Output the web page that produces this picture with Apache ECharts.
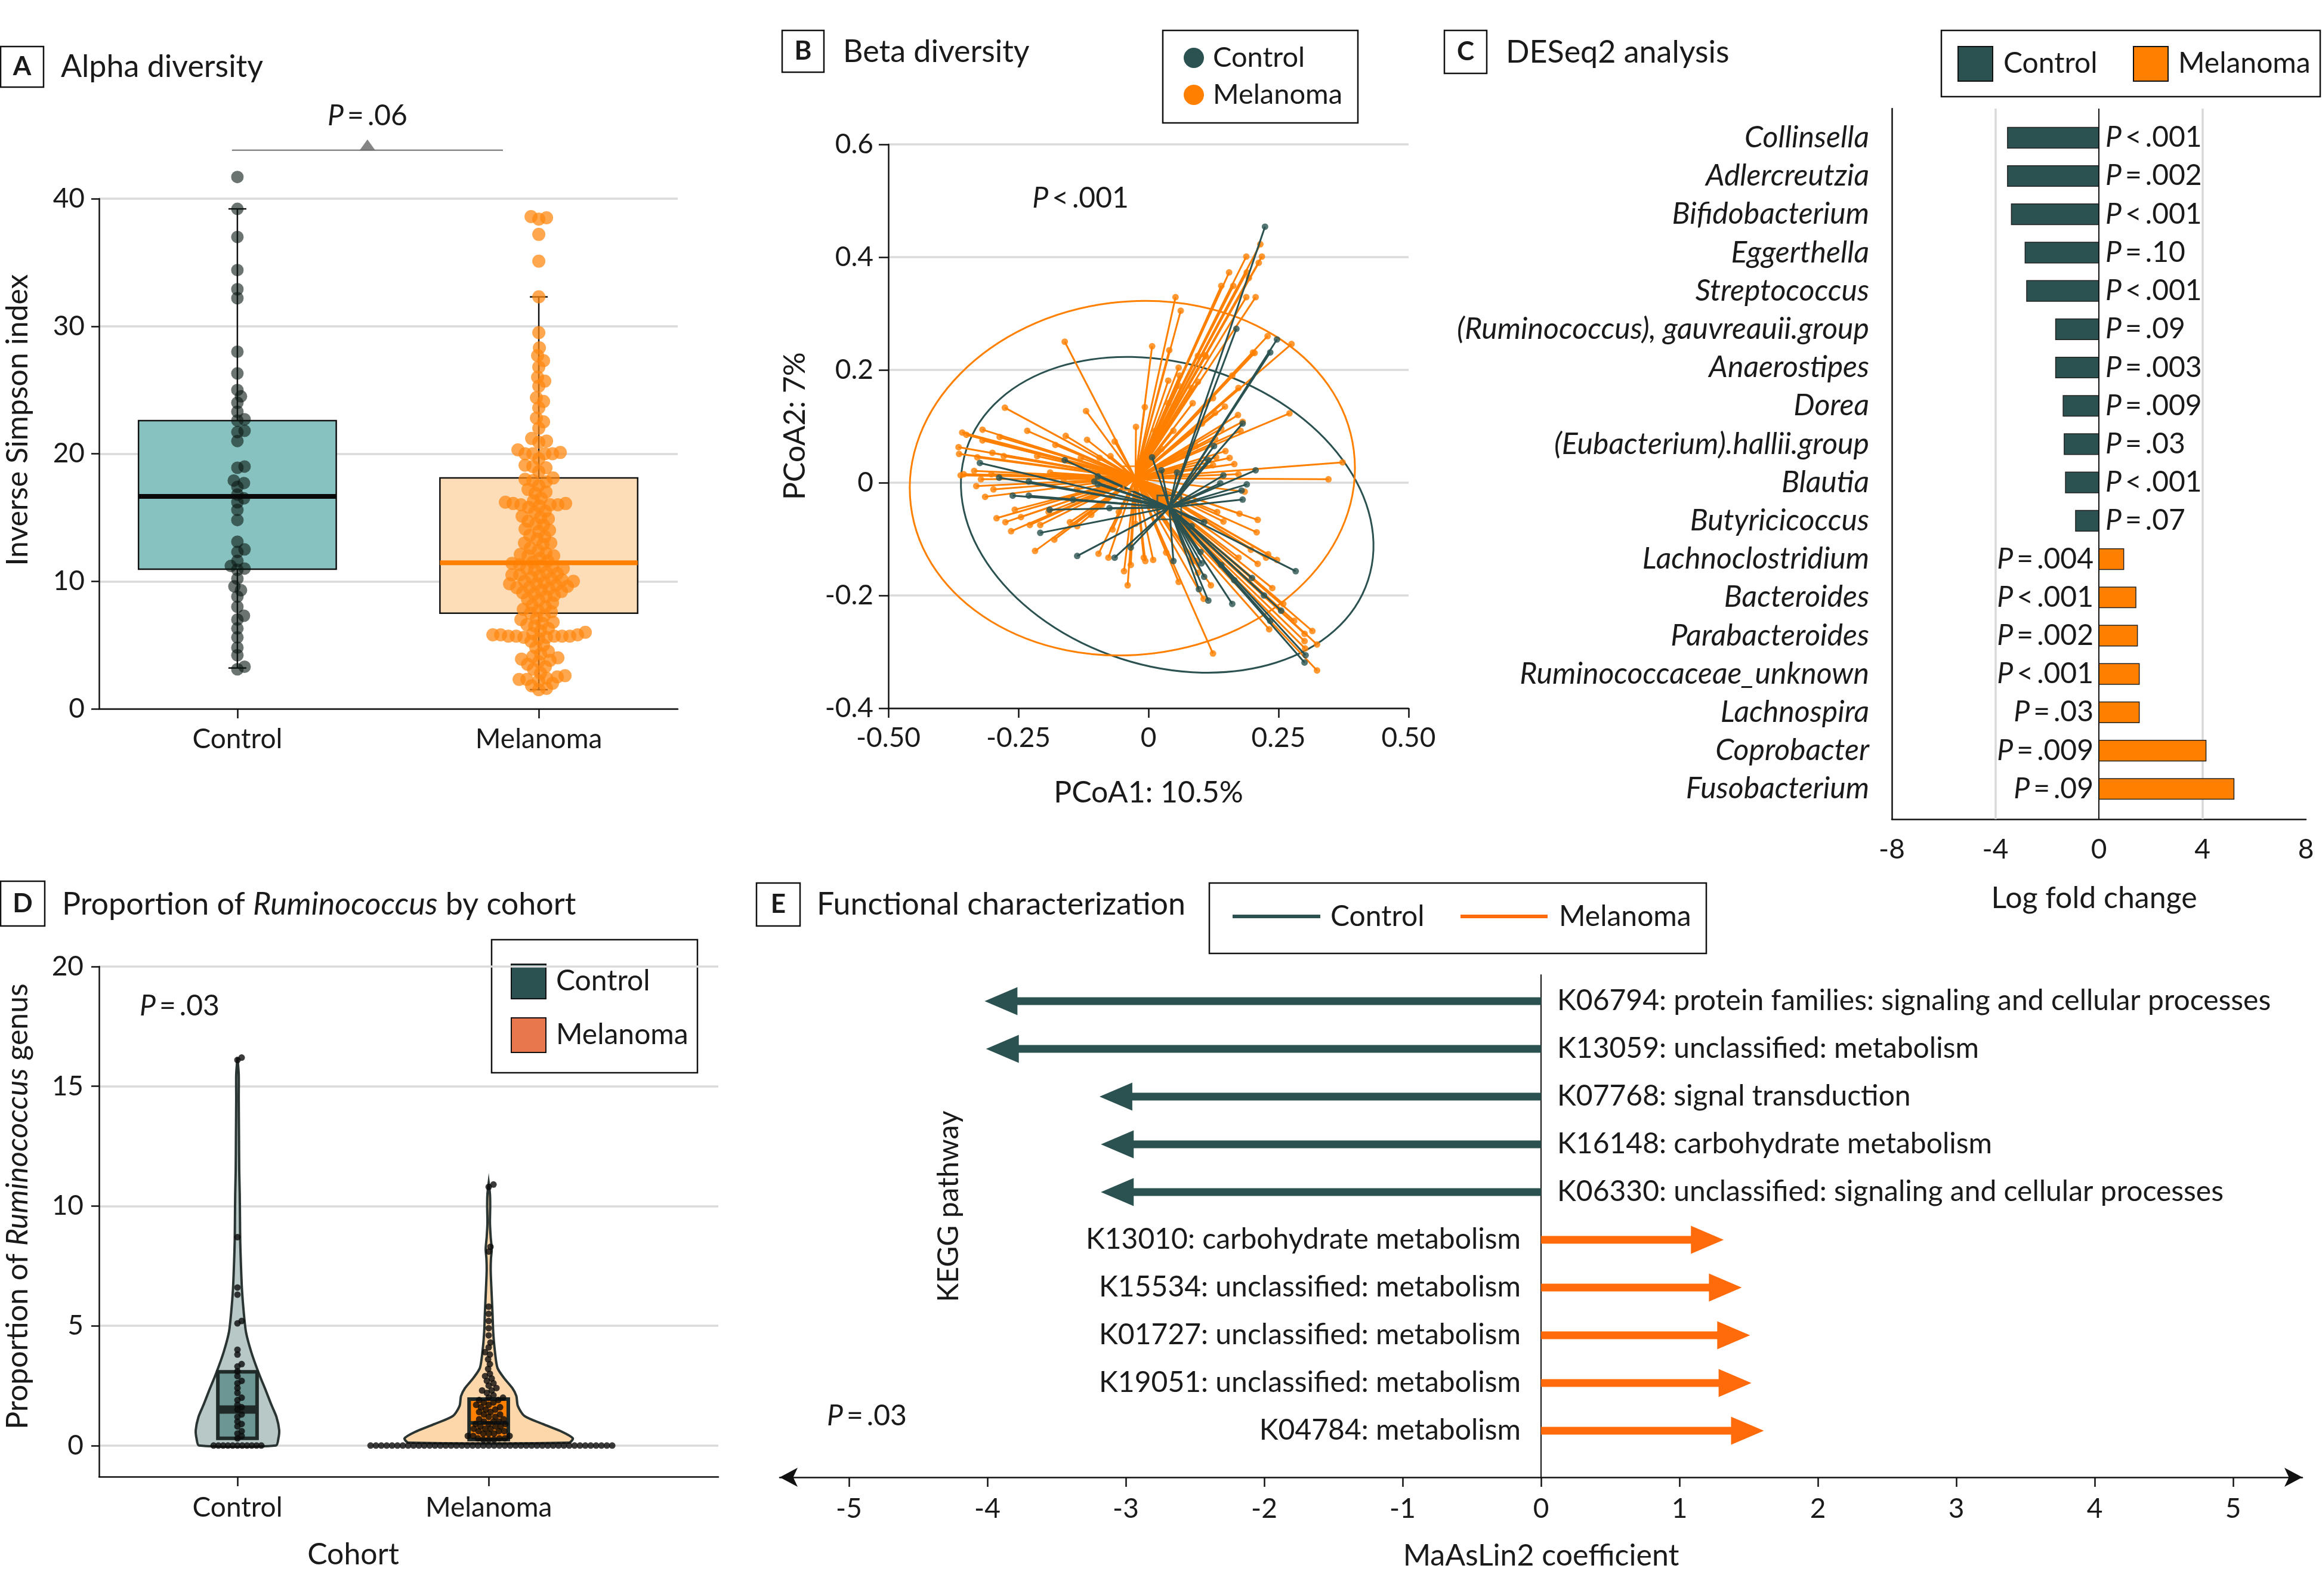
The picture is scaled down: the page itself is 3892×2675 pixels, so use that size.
<!DOCTYPE html>
<html><head><meta charset="utf-8">
<script src="https://cdn.jsdelivr.net/npm/echarts@6/dist/echarts.min.js"></script>
<style>html,body{margin:0;padding:0;background:#fff}#c{width:3892px;height:2675px}</style>
</head><body><div id="c"></div>
<script>
// ---------------- DATA ----------------
// Panel A: alpha diversity (Inverse Simpson index)
const catA = ['Control', 'Melanoma'];
const ctlA = [41.7, 39.2, 37.0, 34.4, 32.9, 32.2, 28.0, 26.3, 25.0, 24.5, 24.0, 23.3, 22.7, 22.6, 21.8, 21.7, 21.0, 19.0, 18.9, 17.9, 17.7, 17.4, 16.8, 16.5, 16.2, 15.6, 14.8, 13.1, 12.5, 12.3, 11.6, 11.2, 11.0, 10.9, 10.2, 9.6, 9.3, 8.8, 8.0, 7.3, 7.0, 6.3, 5.6, 4.8, 4.2, 3.3, 3.1];
const melA = [38.6, 38.5, 38.4, 37.2, 35.1, 32.3, 29.5, 28.3, 27.7, 27.3, 26.8, 26.0, 25.7, 25.3, 24.4, 24.1, 23.6, 22.8, 22.5, 22.0, 21.2, 21.0, 20.9, 20.3, 20.1, 20.0, 20.0, 20.0, 20.0, 19.6, 19.1, 19.0, 18.9, 18.6, 18.1, 18.0, 17.9, 17.8, 17.5, 17.2, 17.0, 16.9, 16.5, 16.3, 16.2, 16.1, 16.1, 16.0, 16.0, 16.0, 15.9, 15.8, 15.5, 15.4, 15.1, 15.0, 14.9, 14.7, 14.5, 14.4, 14.1, 14.0, 13.9, 13.6, 13.5, 13.3, 13.0, 13.0, 12.9, 12.6, 12.4, 12.2, 12.1, 12.0, 12.0, 11.8, 11.6, 11.5, 11.4, 11.3, 11.2, 11.1, 11.0, 11.0, 10.9, 10.7, 10.6, 10.5, 10.5, 10.4, 10.3, 10.2, 10.1, 10.0, 10.0, 9.9, 9.8, 9.8, 9.7, 9.6, 9.5, 9.5, 9.4, 9.3, 9.2, 9.1, 9.0, 8.9, 8.8, 8.6, 8.5, 8.3, 8.1, 8.0, 7.8, 7.7, 7.6, 7.5, 7.3, 7.1, 7.0, 6.8, 6.7, 6.6, 6.5, 6.3, 6.1, 6.0, 5.9, 5.8, 5.8, 5.8, 5.7, 5.7, 5.7, 5.7, 5.7, 5.6, 5.6, 5.5, 5.3, 5.0, 4.8, 4.5, 4.3, 4.1, 4.0, 3.9, 3.8, 3.7, 3.5, 3.3, 3.1, 2.8, 2.6, 2.5, 2.4, 2.3, 2.3, 2.2, 2.0, 1.8, 1.6, 1.5];
// low whisker, Q1, median, Q3, high whisker
const ctlABox = [3.2, 10.95, 16.65, 22.6, 39.2];
const melABox = [1.5, 7.5, 11.45, 18.1, 32.3];
const bracketA = [0.982, 1.881, 43.8];

// Panel B: PCoA (PCoA1, PCoA2)
const ctlB = [[0.224,0.454],[0.169,0.273],[0.247,0.254],[0.234,0.231],[0.181,0.105],[0.126,0.065],[0.206,0.022],[0.189,-0.003],[0.181,-0.030],[0.144,0.013],[0.138,-0.001],[0.283,-0.157],[0.199,-0.169],[0.302,-0.306],[0.300,-0.319],[0.161,-0.215],[0.097,-0.189],[0.115,-0.209],[0.102,-0.143],[0.107,-0.167],[0.048,-0.139],[0.007,0.045],[0.025,0.022],[0.055,0.018],[0.115,0.040],[-0.034,-0.115],[-0.065,-0.133],[-0.137,-0.130],[-0.208,-0.089],[-0.230,-0.023],[-0.261,-0.023],[-0.287,0.009],[-0.324,0.035],[-0.230,0.002],[-0.161,0.040],[-0.097,0.011],[-0.104,0.002],[-0.097,-0.003],[-0.145,-0.030],[0.083,-0.077],[0.107,-0.070],[0.255,-0.227],[0.222,-0.200],[0.140,-0.146],[0.165,-0.173],[0.234,-0.245],[0.179,-0.014],[0.100,-0.123],[-0.190,-0.048],[-0.075,-0.045]];
const melB = [[0.215,0.423],[0.218,0.401],[0.188,0.401],[0.212,0.390],[0.189,0.373],[0.155,0.373],[0.140,0.349],[0.163,0.349],[0.193,0.363],[0.206,0.329],[0.188,0.329],[0.052,0.329],[0.062,0.305],[0.229,0.260],[0.275,0.246],[0.271,0.123],[0.204,0.230],[0.095,0.225],[0.110,0.224],[0.007,0.242],[0.040,0.235],[0.161,0.190],[0.060,0.190],[0.085,0.141],[0.128,0.124],[0.172,0.120],[0.181,0.108],[0.095,0.179],[0.038,0.181],[0.058,0.172],[0.103,0.105],[0.140,0.096],[0.128,0.078],[0.148,0.056],[0.156,0.044],[0.173,0.015],[0.373,0.036],[0.346,0.006],[0.124,0.031],
[0.208,-0.088],[0.230,-0.127],[0.247,-0.137],[0.226,-0.133],[0.197,-0.119],[0.173,-0.133],[0.138,-0.144],[0.238,-0.187],[0.259,-0.215],[0.280,-0.245],[0.300,-0.268],[0.315,-0.263],[0.300,-0.281],[0.324,-0.287],[0.301,-0.294],[0.324,-0.333],[0.232,-0.260],[0.124,-0.303],[0.120,-0.182],[0.106,-0.206],[0.095,-0.160],[0.058,-0.176],[0.034,-0.124],[0.210,-0.144],[0.091,-0.139],[0.175,-0.055],[0.144,-0.069],
[-0.161,0.250],[-0.120,0.127],[-0.276,0.133],[-0.233,0.092],[-0.319,0.094],[-0.286,0.081],[-0.358,0.089],[-0.350,0.085],[-0.364,0.051],[-0.365,0.063],[-0.329,0.045],[-0.319,0.075],[-0.300,0.053],[-0.278,0.047],[-0.214,0.047],[-0.179,0.067],[-0.159,0.083],[-0.118,0.076],[-0.065,0.073],[-0.073,0.047],[-0.024,0.099],[-0.130,0.044],[-0.361,0.013],[-0.355,0.015],[-0.335,0.021],[-0.322,0.006],[-0.302,0.015],[-0.331,-0.006],[-0.314,-0.025],[-0.298,-0.012],[-0.275,-0.070],[-0.292,-0.063],[-0.257,-0.048],[-0.245,-0.061],[-0.264,-0.086],[-0.228,-0.075],[-0.218,-0.121],[-0.208,-0.075],[-0.192,-0.052],[-0.181,-0.101],[-0.151,-0.070],[-0.137,-0.077],[-0.189,0.018],[-0.163,0.006],[-0.138,-0.012],[-0.110,-0.057],[-0.096,-0.126],[-0.077,-0.133],[-0.047,-0.157],[-0.040,-0.182],[-0.034,-0.146],[-0.009,-0.133],[-0.006,-0.139],[0.009,-0.137],[-0.069,-0.083],[-0.057,-0.052],[-0.025,-0.073],[-0.085,-0.009],[-0.065,0.008],[-0.040,0.004],[-0.089,-0.039],[-0.094,0.044],
[-0.007,0.134],[0.013,0.092],[0.038,0.141],[0.048,0.092],[0.083,0.168],[0.124,0.150],[0.147,0.135],[0.173,0.168],[0.201,0.231],[0.058,0.204],[0.109,0.226],[0.177,0.092],[0.091,0.065],[0.066,0.051],[0.025,0.060],[0.130,0.045],[0.165,0.033],[0.185,-0.016],[0.132,-0.052],[0.210,-0.066]];
const ctlCentroid = [0.040, -0.044];
const melCentroid = [-0.025, 0.008];
// ellipse: centre x, centre y, semi-axis a (PCoA1 units), semi-axis b (PCoA2 units), tilt (deg)
const ctlEllipse = [0.036, -0.057, 0.406, 0.268, -18];
const melEllipse = [-0.031, 0.008, 0.429, 0.313, 7];

// Panel C: DESeq2 log fold change
const genera = ['Collinsella','Adlercreutzia','Bifidobacterium','Eggerthella','Streptococcus','(Ruminococcus), gauvreauii.group','Anaerostipes','Dorea','(Eubacterium).hallii.group','Blautia','Butyricicoccus','Lachnoclostridium','Bacteroides','Parabacteroides','Ruminococcaceae_unknown','Lachnospira','Coprobacter','Fusobacterium'];
const lfc = [-3.53,-3.53,-3.38,-2.85,-2.79,-1.67,-1.67,-1.38,-1.34,-1.29,-0.90,0.96,1.43,1.49,1.56,1.56,4.14,5.22];
const pvalsC = ['< .001','= .002','< .001','= .10','< .001','= .09','= .003','= .009','= .03','< .001','= .07','= .004','< .001','= .002','< .001','= .03','= .009','= .09'];

// Panel D: proportion of Ruminococcus
const catD = ['Control', 'Melanoma'];
const ctlD = [16.2, 16.1, 8.7, 6.6, 6.3, 5.2, 5.1, 4.0, 3.8, 3.4, 3.3, 3.1, 2.9, 2.7, 2.6, 2.4, 2.2, 2.0, 1.9, 1.7, 1.6, 1.5, 1.3, 1.2, 1.0, 0.9, 0.8, 0.6, 0.5, 0.4, 0.3, 0, 0, 0, 0, 0, 0, 0, 0, 0, 0, 0];
const melD = [10.9, 10.8, 8.3, 8.1, 5.8, 5.5, 5.2, 4.9, 4.6, 4.3, 4.1, 3.9, 3.8, 3.6, 3.4, 3.2, 3.0, 2.9, 2.8, 2.7, 2.6, 2.5, 2.4, 2.3, 2.3, 2.2, 2.1, 2.0, 2.0, 1.9, 1.9, 1.8, 1.8, 1.7, 1.7, 1.6, 1.6, 1.5, 1.5, 1.4, 1.4, 1.3, 1.3, 1.2, 1.2, 1.1, 1.1, 1.0, 1.0, 1.0, 0.9, 0.9, 0.9, 0.8, 0.8, 0.8, 0.7, 0.7, 0.7, 0.6, 0.6, 0.6, 0.5, 0.5, 0.5, 0.4, 0.4, 0.4, 0.3, 0.3, 0.3, 0.25, 0.25, 0.25,
 0, 0, 0, 0, 0, 0, 0, 0, 0, 0, 0, 0, 0, 0, 0, 0, 0, 0, 0, 0, 0, 0, 0, 0, 0, 0, 0, 0, 0, 0, 0, 0, 0, 0, 0, 0, 0, 0, 0, 0, 0, 0, 0, 0, 0, 0];
// violin outline: level and half-width (x units)
const ctlViolinY = [0, 0.3, 0.65, 1.2, 1.7, 2.24, 3.07, 3.9, 4.73, 5.56, 6.5, 7.5, 8.5, 9.5, 10.5, 11.5, 13, 14.5, 15.5, 16.2];
const ctlViolinW = [0.153, 0.163, 0.166, 0.155, 0.135, 0.115, 0.083, 0.055, 0.034, 0.025, 0.018, 0.014, 0.011, 0.010, 0.009, 0.007, 0.006, 0.005, 0.005, 0.0];
const melViolinY = [0.12, 0.3, 0.57, 0.9, 1.24, 1.65, 2.07, 2.4, 2.82, 3.24, 3.9, 4.73, 5.56, 6.5, 7.3, 7.8, 8.2, 8.7, 9.3, 10.0, 10.5, 10.95];
const melViolinW = [0.32, 0.335, 0.293, 0.215, 0.142, 0.116, 0.110, 0.094, 0.061, 0.035, 0.025, 0.018, 0.015, 0.011, 0.008, 0.009, 0.012, 0.008, 0.005, 0.006, 0.005, 0.0];
// Q1, median, Q3
const ctlDBox = [0.3, 1.5, 3.08];
const melDBox = [0.25, 0.95, 1.94];

// Panel E: MaAsLin2 coefficients
const keggLabels = ['K06794: protein families: signaling and cellular processes','K13059: unclassified: metabolism','K07768: signal transduction','K16148: carbohydrate metabolism','K06330: unclassified: signaling and cellular processes','K13010: carbohydrate metabolism','K15534: unclassified: metabolism','K01727: unclassified: metabolism','K19051: unclassified: metabolism','K04784: metabolism'];
const keggCoef = [-4.02, -4.01, -3.19, -3.18, -3.18, 1.32, 1.45, 1.51, 1.52, 1.61];
const eTicks = [-5, -4, -3, -2, -1, 0, 1, 2, 3, 4, 5];

// ---------------- STYLE ----------------
const FONT = 'Lato';
const TXT = '#1a1a1a';
const DARK = '#2b5250';
const ORANGE = '#ff8000';
const ORANGE_E = '#ff6a0a';
const TS = '\u2009'; // thin space used in P-value labels

// beeswarm layout (pixel space) -> offsets in x data units
function swarm(vals, pxPerY, pxPerX, dmin) {
  const order = vals.map((v, i) => i).sort((a, b) => vals[a] - vals[b]);
  const placed = []; const off = new Array(vals.length);
  for (const i of order) {
    const y = vals[i] * pxPerY;
    for (let k = 0; k < 2000; k++) {
      const o = k === 0 ? 0 : (k % 2 === 1 ? 1 : -1) * Math.ceil(k / 2);
      let ok = true;
      for (const p of placed) {
        const dy = p.y - y;
        if (Math.abs(dy) >= dmin) continue;
        const dx = p.x - o;
        if (dx * dx + dy * dy < dmin * dmin) { ok = false; break; }
      }
      if (ok) { placed.push({ x: o, y }); off[i] = o / pxPerX; break; }
    }
  }
  return off;
}

// grids (px)
const GA = { left: 166, top: 333, width: 970, height: 855 };
const GB = { left: 1489, top: 242, width: 872, height: 945 };
const GC = { left: 3171, top: 182, width: 694, height: 1191 };
const GD = { left: 166, top: 1620, width: 1038, height: 855 };
const GE = { left: 1307, top: 1634, width: 2552, height: 842 };

const A_X = [0.541, 2.461], D_X = [0.449, 2.914];
const offCtlA = swarm(ctlA, GA.height / 40, GA.width / (A_X[1] - A_X[0]), 12);
const offMelA = swarm(melA, GA.height / 40, GA.width / (A_X[1] - A_X[0]), 13);
const offCtlD = swarm(ctlD, GD.height / 21.3, GD.width / (D_X[1] - D_X[0]), 7.5);
const offMelD = swarm(melD, GD.height / 21.3, GD.width / (D_X[1] - D_X[0]), 8.5);

const LBL = { color: TXT, fontSize: 46, fontFamily: FONT };
const AXL = { show: true, onZero: false, lineStyle: { color: '#111', width: 2.5 } };
const TICK = { show: true, length: 14, lineStyle: { color: '#111', width: 2.5 } };
const GRIDL = { show: true, lineStyle: { color: '#dadada', width: 3.5 } };

function rt(text, size, extra) {
  return Object.assign({ text: text, fontSize: size, fontFamily: FONT, fill: TXT,
    rich: { i: { fontStyle: 'italic', fontSize: size, fontFamily: FONT, fill: TXT } } }, extra || {});
}
function pTxt(s) { return '{i|P}' + TS + s.replace(' ', TS); }
function tag(x, y, w, h, letter) {
  return [
    { type: 'rect', shape: { x: x, y: y, width: w, height: h }, style: { fill: '#fff', stroke: '#111', lineWidth: 2.5 } },
    { type: 'text', x: x + w / 2, y: y + h / 2, style: { text: letter, fontSize: 44, fontWeight: 'bold', fontFamily: FONT, fill: TXT, align: 'center', verticalAlign: 'middle' } }
  ];
}
function T(text, x, y, size, align, extra) {
  return Object.assign({ type: 'text', x: x, y: y, style: rt(text, size, { align: align || 'left', verticalAlign: 'middle' }) }, extra || {});
}

const graphics = [].concat(
  tag(1, 78, 72, 68, 'A'), [T('Alpha diversity', 102, 112, 52)],
  [T(pTxt('= .06'), 616, 195, 48, 'center')],
  [T('Inverse Simpson index', 30, 704, 50, 'center', { rotation: Math.PI / 2 })],
  tag(1311, 51, 70, 70, 'B'), [T('Beta diversity', 1413, 87, 52)],
  [{ type: 'rect', shape: { x: 1949, y: 51, width: 327, height: 155 }, style: { fill: '#fff', stroke: '#111', lineWidth: 2.5 } },
   { type: 'circle', shape: { cx: 2001, cy: 97, r: 17 }, style: { fill: DARK } },
   { type: 'circle', shape: { cx: 2001, cy: 159, r: 17 }, style: { fill: ORANGE } },
   T('Control', 2033, 97, 47), T('Melanoma', 2033, 159, 47)],
  [T(pTxt('< .001'), 1811, 333, 48, 'center')],
  [T('PCoA1: 10.5%', 1925, 1329, 50, 'center'), T('PCoA2: 7%', 1333, 714, 50, 'center', { rotation: Math.PI / 2 })],
  tag(2421, 51, 71, 72, 'C'), [T('DESeq2 analysis', 2524, 88, 52)],
  [{ type: 'rect', shape: { x: 3254, y: 51, width: 635, height: 111 }, style: { fill: '#fff', stroke: '#111', lineWidth: 2.5 } },
   { type: 'rect', shape: { x: 3282, y: 78, width: 58, height: 58 }, style: { fill: DARK, stroke: '#111', lineWidth: 2 } },
   { type: 'rect', shape: { x: 3576, y: 78, width: 58, height: 58 }, style: { fill: ORANGE, stroke: '#111', lineWidth: 2 } },
   T('Control', 3358, 107, 48), T('Melanoma', 3651, 107, 48)],
  [T('Log fold change', 3510, 1506, 50, 'center')],
  tag(1, 1477, 74, 75, 'D'), [T('Proportion of {i|Ruminococcus} by cohort', 104, 1516, 52)],
  [{ type: 'rect', shape: { x: 824, y: 1575, width: 345, height: 223 }, style: { fill: '#fff', stroke: '#111', lineWidth: 2.5 } },
   { type: 'rect', shape: { x: 857, y: 1616, width: 58, height: 58 }, style: { fill: DARK, stroke: '#111', lineWidth: 2 } },
   { type: 'rect', shape: { x: 857, y: 1706, width: 58, height: 58 }, style: { fill: '#e8774e', stroke: '#111', lineWidth: 2 } },
   T('Control', 932, 1645, 48), T('Melanoma', 932, 1735, 48)],
  [T(pTxt('= .03'), 234, 1687, 48)],
  [T('Proportion of {i|Ruminococcus} genus', 30, 2022, 50, 'center', { rotation: Math.PI / 2 })],
  [T('Cohort', 592, 2606, 50, 'center')],
  tag(1268, 1480, 73, 72, 'E'), [T('Functional characterization', 1369, 1516, 52)],
  [{ type: 'rect', shape: { x: 2027, y: 1480, width: 833, height: 118 }, style: { fill: '#fff', stroke: '#111', lineWidth: 2.5 } },
   { type: 'line', shape: { x1: 2066, y1: 1536, x2: 2213, y2: 1536 }, style: { stroke: DARK, lineWidth: 6 } },
   { type: 'line', shape: { x1: 2448, y1: 1536, x2: 2594, y2: 1536 }, style: { stroke: ORANGE_E, lineWidth: 6 } },
   T('Control', 2230, 1537, 48), T('Melanoma', 2613, 1537, 48)],
  [T(pTxt('= .03'), 1386, 2374, 48)],
  [T('KEGG pathway', 1591, 2022, 48, 'center', { rotation: Math.PI / 2 })],
  [T('MaAsLin2 coefficient', 2583, 2608, 50, 'center')]
);

const option = {
  backgroundColor: '#fff',
  animation: false,
  textStyle: { fontFamily: FONT },
  grid: [GA, GB, GC, GD, GE],
  xAxis: [
    { gridIndex: 0, type: 'value', min: A_X[0], max: A_X[1], axisLine: AXL,
      axisTick: Object.assign({}, TICK, { length: 16, customValues: [1, 2] }),
      axisLabel: Object.assign({}, LBL, { customValues: [1, 2], margin: 28, formatter: v => catA[Math.round(v) - 1] }), splitLine: { show: false } },
    { gridIndex: 1, type: 'value', min: -0.5, max: 0.5, interval: 0.25, axisLine: AXL,
      axisTick: Object.assign({}, TICK, { length: 16 }),
      axisLabel: Object.assign({}, LBL, { margin: 27, formatter: v => Math.abs(v) < 1e-9 ? '0' : v.toFixed(2) }), splitLine: { show: false } },
    { gridIndex: 2, type: 'value', min: -8, max: 8, interval: 4, axisLine: AXL, axisTick: { show: false },
      axisLabel: Object.assign({}, LBL, { margin: 28 }), splitLine: { show: false } },
    { gridIndex: 3, type: 'value', min: D_X[0], max: D_X[1], axisLine: AXL,
      axisTick: Object.assign({}, TICK, { length: 16, customValues: [1, 2] }),
      axisLabel: Object.assign({}, LBL, { customValues: [1, 2], margin: 29, formatter: v => catD[Math.round(v) - 1] }), splitLine: { show: false } },
    { gridIndex: 4, type: 'value', min: -5.5, max: 5.5,
      axisLine: { show: true, onZero: false, symbol: ['arrow', 'arrow'], symbolSize: [24, 30], lineStyle: { color: '#111', width: 2.5 } },
      axisTick: Object.assign({}, TICK, { length: 16, customValues: eTicks }),
      axisLabel: Object.assign({}, LBL, { customValues: eTicks, margin: 30 }), splitLine: { show: false } }
  ],
  yAxis: [
    { gridIndex: 0, type: 'value', min: 0, max: 40, interval: 10, axisLine: AXL, axisTick: Object.assign({}, TICK, { length: 13 }),
      axisLabel: Object.assign({}, LBL, { margin: 24 }), splitLine: GRIDL },
    { gridIndex: 1, type: 'value', min: -0.4, max: 0.6, interval: 0.2, axisLine: AXL, axisTick: Object.assign({}, TICK, { length: 16 }),
      axisLabel: Object.assign({}, LBL, { margin: 25, formatter: v => Math.abs(v) < 1e-9 ? '0' : v.toFixed(1) }), splitLine: GRIDL },
    { gridIndex: 2, type: 'value', inverse: true, min: -0.76, max: 17.79, axisLine: AXL, axisTick: { show: false },
      axisLabel: Object.assign({}, LBL, { fontSize: 50, fontStyle: 'italic', customValues: genera.map((g, i) => i), margin: 38, formatter: v => genera[Math.round(v)] }),
      splitLine: { show: false } },
    { gridIndex: 3, type: 'value', min: -1.3, max: 20, axisLine: AXL,
      axisTick: Object.assign({}, TICK, { length: 13, customValues: [0, 5, 10, 15, 20] }),
      axisLabel: Object.assign({}, LBL, { customValues: [0, 5, 10, 15, 20], margin: 26 }), splitLine: GRIDL },
    { gridIndex: 4, type: 'value', inverse: true, min: -0.55, max: 9.975,
      axisLine: { show: true, onZero: true, lineStyle: { color: '#111', width: 2 } }, axisTick: { show: false }, axisLabel: { show: false }, splitLine: { show: false } }
  ],
  graphic: graphics,
  series: [
    // ---- A ----
    { type: 'custom', xAxisIndex: 0, yAxisIndex: 0, z: 2, silent: true,
      data: [[1].concat(ctlABox), [2].concat(melABox)],
      renderItem: (params, api) => {
        const x = api.value(0), lo = api.value(1), q1 = api.value(2), q3 = api.value(4), hi = api.value(5);
        const hw = 0.328;
        const pLo = api.coord([x, lo]), pHi = api.coord([x, hi]);
        const tl = api.coord([x - hw, q3]), br = api.coord([x + hw, q1]);
        const fill = params.dataIndex === 0 ? '#88c2c0' : '#fddcb8';
        const s = { stroke: '#111', lineWidth: 2.5 };
        return { type: 'group', children: [
          { type: 'line', shape: { x1: pLo[0], y1: pLo[1], x2: pHi[0], y2: pHi[1] }, style: s },
          { type: 'line', shape: { x1: pLo[0] - 15, y1: pLo[1], x2: pLo[0] + 15, y2: pLo[1] }, style: s },
          { type: 'line', shape: { x1: pHi[0] - 15, y1: pHi[1], x2: pHi[0] + 15, y2: pHi[1] }, style: s },
          { type: 'rect', shape: { x: tl[0], y: tl[1], width: br[0] - tl[0], height: br[1] - tl[1] }, style: { fill: fill, stroke: '#111', lineWidth: 2.5 } }
        ] };
      } },
    { type: 'scatter', xAxisIndex: 0, yAxisIndex: 0, z: 3, silent: true, symbolSize: 21, clip: false,
      itemStyle: { color: 'rgba(10,24,18,0.75)' }, data: ctlA.map((v, i) => [1 + offCtlA[i], v]) },
    { type: 'scatter', xAxisIndex: 0, yAxisIndex: 0, z: 3, silent: true, symbolSize: 22, clip: false,
      itemStyle: { color: 'rgba(255,136,16,0.92)' }, data: melA.map((v, i) => [2 + offMelA[i], v]) },
    { type: 'custom', xAxisIndex: 0, yAxisIndex: 0, z: 4, silent: true,
      data: [[1].concat(ctlABox), [2].concat(melABox)],
      renderItem: (params, api) => {
        const x = api.value(0), md = api.value(3), hw = 0.328;
        const a = api.coord([x - hw, md]), b = api.coord([x + hw, md]);
        return { type: 'line', shape: { x1: a[0], y1: a[1], x2: b[0], y2: b[1] },
          style: { stroke: params.dataIndex === 0 ? '#0a0a0a' : '#ff8000', lineWidth: 8 } };
      } },
    { type: 'line', xAxisIndex: 0, yAxisIndex: 0, clip: false, silent: true, symbol: 'none', z: 5,
      lineStyle: { color: '#888', width: 2.5 }, data: [[bracketA[0], bracketA[2]], [bracketA[1], bracketA[2]]] },
    { type: 'scatter', xAxisIndex: 0, yAxisIndex: 0, clip: false, silent: true, z: 5, symbol: 'triangle',
      symbolSize: [26, 18], symbolOffset: [0, -9], itemStyle: { color: '#666' },
      data: [[(bracketA[0] + bracketA[1]) / 2, bracketA[2]]] },
    // ---- B ----
    { type: 'custom', xAxisIndex: 1, yAxisIndex: 1, z: 1, silent: true,
      data: [ctlEllipse, melEllipse],
      renderItem: (params, api) => {
        const c = api.coord([api.value(0), api.value(1)]);
        const sz = api.size([1, 1]);
        return { type: 'ellipse', x: c[0], y: c[1], rotation: api.value(4) * Math.PI / 180,
          shape: { cx: 0, cy: 0, rx: api.value(2) * sz[0], ry: api.value(3) * sz[1] },
          style: { fill: 'none', stroke: params.dataIndex === 0 ? DARK : ORANGE, lineWidth: 3 } };
      } },
    { type: 'lines', coordinateSystem: 'cartesian2d', xAxisIndex: 1, yAxisIndex: 1, z: 2, silent: true,
      lineStyle: { color: ORANGE, width: 3, opacity: 1 }, data: melB.map(p => ({ coords: [melCentroid, p] })) },
    { type: 'scatter', xAxisIndex: 1, yAxisIndex: 1, z: 3, silent: true, symbolSize: 11,
      itemStyle: { color: ORANGE }, data: melB },
    { type: 'lines', coordinateSystem: 'cartesian2d', xAxisIndex: 1, yAxisIndex: 1, z: 4, silent: true,
      lineStyle: { color: DARK, width: 3, opacity: 1 }, data: ctlB.map(p => ({ coords: [ctlCentroid, p] })) },
    { type: 'scatter', xAxisIndex: 1, yAxisIndex: 1, z: 5, silent: true, symbolSize: 11,
      itemStyle: { color: DARK }, data: ctlB },
    { type: 'scatter', xAxisIndex: 1, yAxisIndex: 1, z: 6, silent: true, symbol: 'rect', symbolSize: 40,
      itemStyle: { color: 'rgba(0,0,0,0)', borderColor: ORANGE, borderWidth: 3 }, data: [melCentroid] },
    { type: 'scatter', xAxisIndex: 1, yAxisIndex: 1, z: 6, silent: true, symbol: 'rect', symbolSize: 40,
      itemStyle: { color: 'rgba(0,0,0,0)', borderColor: DARK, borderWidth: 3 }, data: [ctlCentroid] },
    // ---- C ----
    { type: 'line', xAxisIndex: 2, yAxisIndex: 2, z: 1, zlevel: 0, silent: true, data: [],
      markLine: { silent: true, symbol: 'none', label: { show: false }, z: 1,
        data: [{ xAxis: -4, lineStyle: { color: '#d9d9d9', width: 3.5, type: 'solid' } },
               { xAxis: 4, lineStyle: { color: '#d9d9d9', width: 3.5, type: 'solid' } }] } },
    { type: 'custom', xAxisIndex: 2, yAxisIndex: 2, z: 3, silent: true,
      data: lfc.map((v, i) => [v, i]),
      renderItem: (params, api) => {
        const v = api.value(0), r = api.value(1);
        const p0 = api.coord([0, r]), p1 = api.coord([v, r]);
        const h = api.size([0, 1])[1] * 0.54;
        const neg = v < 0;
        const tx = neg ? p0[0] + 11 : p0[0] - 9;
        return { type: 'group', children: [
          { type: 'rect', shape: { x: Math.min(p0[0], p1[0]), y: p0[1] - h / 2, width: Math.abs(p1[0] - p0[0]), height: h },
            style: { fill: neg ? DARK : ORANGE, stroke: '#222', lineWidth: 1.5 } },
          { type: 'text', style: rt(pTxt(pvalsC[params.dataIndex]), 48, { x: tx, y: p0[1], align: neg ? 'left' : 'right', verticalAlign: 'middle' }) }
        ] };
      } },
    { type: 'line', xAxisIndex: 2, yAxisIndex: 2, z: 4, silent: true, data: [],
      markLine: { silent: true, symbol: 'none', label: { show: false },
        data: [{ xAxis: 0, lineStyle: { color: '#111', width: 2, type: 'solid' } }] } },
    // ---- D ----
    { type: 'custom', xAxisIndex: 3, yAxisIndex: 3, z: 1, silent: true,
      data: [[1, 0], [2, 0]],
      renderItem: (params, api) => {
        const g = params.dataIndex, xc = api.value(0);
        const ys = g === 0 ? ctlViolinY : melViolinY, ws = g === 0 ? ctlViolinW : melViolinW;
        const right = ys.map((y, i) => api.coord([xc + ws[i], y]));
        const left = ys.map((y, i) => api.coord([xc - ws[i], y])).reverse();
        return { type: 'polygon', shape: { points: right.concat(left), smooth: 0.25 },
          style: { fill: g === 0 ? '#b8c8c6' : '#fdd7aa', stroke: '#2a3432', lineWidth: 4 } };
      } },
    { type: 'custom', xAxisIndex: 3, yAxisIndex: 3, z: 2, silent: true,
      data: [[1].concat(ctlDBox), [2].concat(melDBox)],
      renderItem: (params, api) => {
        const x = api.value(0), q1 = api.value(1), md = api.value(2), q3 = api.value(3), hw = 0.078;
        const tl = api.coord([x - hw, q3]), br = api.coord([x + hw, q1]);
        const m1 = api.coord([x - hw, md]), m2 = api.coord([x + hw, md]);
        const g = params.dataIndex;
        return { type: 'group', children: [
          { type: 'rect', shape: { x: tl[0], y: tl[1], width: br[0] - tl[0], height: br[1] - tl[1] },
            style: { fill: g === 0 ? '#6c9694' : '#ff8000', stroke: '#1f2a29', lineWidth: 6 } },
          { type: 'line', shape: { x1: m1[0], y1: m1[1], x2: m2[0], y2: m2[1] }, style: { stroke: '#1f2a29', lineWidth: g === 0 ? 14 : 6 } }
        ] };
      } },
    { type: 'scatter', xAxisIndex: 3, yAxisIndex: 3, z: 3, silent: true, symbolSize: 11,
      itemStyle: { color: '#0b0b0b' }, data: ctlD.map((v, i) => [1 + offCtlD[i], v]) },
    { type: 'scatter', xAxisIndex: 3, yAxisIndex: 3, z: 3, silent: true, symbolSize: 11,
      itemStyle: { color: '#0b0b0b' }, data: melD.map((v, i) => [2 + offMelD[i], v]) },
    // ---- E ----
    { type: 'custom', xAxisIndex: 4, yAxisIndex: 4, z: 3, silent: true,
      data: keggCoef.map((v, i) => [v, i]),
      renderItem: (params, api) => {
        const v = api.value(0), r = api.value(1);
        const p0 = api.coord([0, r]), p1 = api.coord([v, r]);
        const dir = v < 0 ? -1 : 1;
        const hl = 55, hh = 23.5, st = 6.4;
        const bx = p1[0] - dir * hl, y = p0[1];
        const pts = [[p0[0], y - st], [bx, y - st], [bx, y - hh], [p1[0], y], [bx, y + hh], [bx, y + st], [p0[0], y + st]];
        return { type: 'group', children: [
          { type: 'polygon', shape: { points: pts }, style: { fill: v < 0 ? DARK : ORANGE_E } },
          { type: 'text', style: { text: keggLabels[params.dataIndex], x: v < 0 ? p0[0] + 27 : p0[0] - 34, y: y,
              align: v < 0 ? 'left' : 'right', verticalAlign: 'middle', fontSize: 48, fontFamily: FONT, fill: TXT } }
        ] };
      } }
  ]
};

const chart = echarts.init(document.getElementById('c'), null, { renderer: 'canvas', width: 3892, height: 2675 });
chart.setOption(option);
</script></body></html>
